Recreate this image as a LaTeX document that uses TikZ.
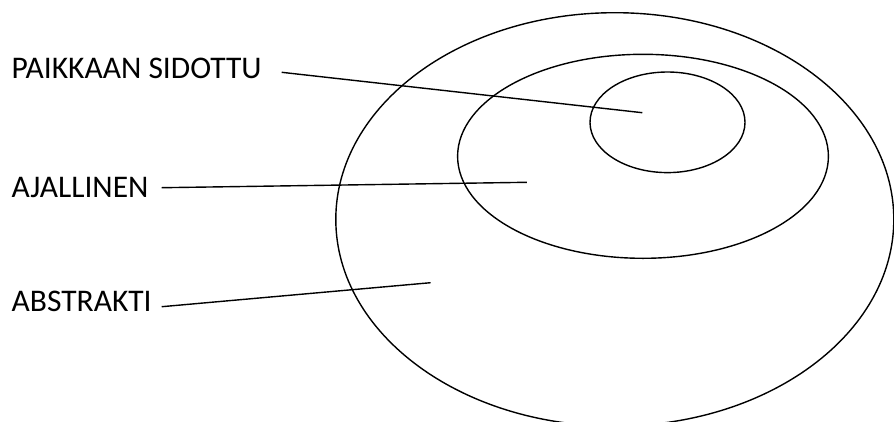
\documentclass[tikz,border=0pt]{standalone}
\usepackage{fontspec}
\setmainfont{Carlito}
\begin{document}
\begin{tikzpicture}[x=1pt,y=-1pt,
  ring/.style={draw=black,line width=1.4pt},
  leader/.style={draw=black,line width=1.4pt},
  lbl/.style={anchor=base west,inner sep=0pt,font=\fontsize{31.5}{36}\selectfont}]
\useasboundingbox (0,0) rectangle (894,421);
\clip (0,0) rectangle (894,421);
\path[ring] (614.8,219.4) ellipse [x radius=279, y radius=206.7];
\path[ring] (643,156.3) ellipse [x radius=185.4, y radius=102];
\path[ring] (667.5,122.3) ellipse [x radius=77.5, y radius=50.3];
\node[lbl] (paikka) at (11.5,78.8) {PAIKKAAN SIDOTTU};
\node[lbl] (ajal) at (11.5,197.3) {AJALLINEN};
\node[lbl] (abst) at (11.5,311.7) {ABSTRAKTI};
\coordinate (p1) at (281.7,72.3);
\coordinate (p2) at (642.3,112.7);
\coordinate (a1) at (161.7,187.7);
\coordinate (a2) at (526.9,182.3);
\coordinate (b1) at (161.7,306.7);
\coordinate (b2) at (430.6,282.7);
\draw[leader] (p1) -- (p2);
\draw[leader] (a1) -- (a2);
\draw[leader] (b1) -- (b2);
\end{tikzpicture}
\end{document}
